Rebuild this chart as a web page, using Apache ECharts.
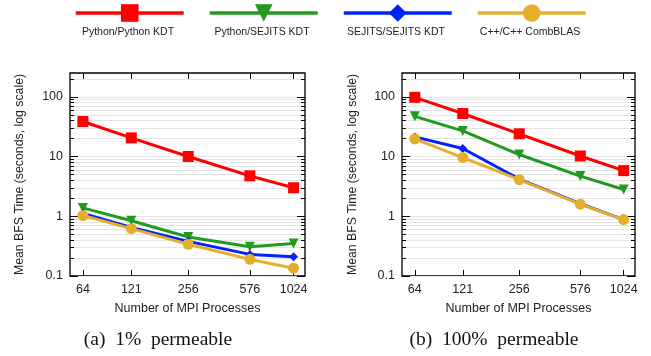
<!DOCTYPE html>
<html>
<head>
<meta charset="utf-8">
<script src="https://cdn.jsdelivr.net/npm/echarts@6/dist/echarts.min.js"></script>
<style>
  html, body { margin: 0; padding: 0; background: #fff; }
  #chart { width: 651px; height: 356px; }
</style>
</head>
<body>
<div id="chart"></div>
<script>
const procs = [64, 121, 256, 576, 1024];
const seriesNames = ['Python/Python KDT', 'Python/SEJITS KDT', 'SEJITS/SEJITS KDT', 'C++/C++ CombBLAS'];

// 1% permeable
const pyPy1 = [38.6, 20.5, 10, 4.75, 3.0];
const pySej1 = [1.38, 0.84, 0.45, 0.31, 0.35];
const sejSej1 = [1.12, 0.65, 0.38, 0.23, 0.21];
const cpp1 = [1.03, 0.62, 0.34, 0.19, 0.135];

// 100% permeable
const pyPy100 = [98, 52.5, 24, 10.2, 5.8];
const pySej100 = [47, 26.8, 10.8, 4.7, 2.8];
const sejSej100 = [21.3, 13.6, 4.2, 1.62, 0.88];
const cpp100 = [19.7, 9.6, 4.1, 1.59, 0.88];

const yMajor = [0.1, 1, 10, 100];
const captions = ['(a)  1%  permeable', '(b)  100%  permeable'];

const colors = ['#ff0000', '#229a22', '#0022ff', '#e3ae2b'];
const symbols = ['rect', 'triangle', 'diamond', 'circle'];
const symbolSizes = [11, 10, 9, 11];
const symbolRotates = [0, 180, 0, 0];

const yMinor = [];
yMajor.forEach(m => { for (let k = 1; k < 10; k++) { if (m * k <= 250) yMinor.push(m * k); } });

const grids = [
  { left: 70, top: 73, width: 235, height: 203 },
  { left: 402, top: 73, width: 233, height: 203 }
];
const xMin = 54, xMax = 1190, yMin = 0.1, yMax = 250;

const tickStyle = { color: '#000', width: 1 };
const xAxes = [], yAxes = [];
grids.forEach((g, gi) => {
  xAxes.push({
    type: 'log', logBase: 2, gridIndex: gi, min: xMin, max: xMax,
    name: 'Number of MPI Processes', nameLocation: 'middle', nameGap: 26,
    nameTextStyle: { fontFamily: 'Liberation Sans', fontSize: 12.5, color: '#222' },
    axisLine: { show: false },
    axisTick: { inside: true, length: 6, lineStyle: tickStyle, customValues: procs },
    axisLabel: { customValues: procs, fontFamily: 'Liberation Sans', fontSize: 12.5, color: '#222', margin: 7,
                 formatter: v => String(v) },
    splitLine: { show: false }
  });
  xAxes.push({
    type: 'log', logBase: 2, gridIndex: gi, min: xMin, max: xMax, position: 'top',
    axisLine: { show: false },
    axisTick: { inside: true, length: 6, lineStyle: tickStyle, customValues: procs },
    axisLabel: { show: false }, splitLine: { show: false }
  });
  ['left', 'right'].forEach(pos => {
    yAxes.push({
      type: 'log', logBase: 10, gridIndex: gi, min: yMin, max: yMax, position: pos,
      name: pos === 'left' ? 'Mean BFS Time (seconds, log scale)' : '',
      nameLocation: 'middle', nameGap: gi === 0 ? 44 : 43,
      nameTextStyle: { fontFamily: 'Liberation Sans', fontSize: 12.3, color: '#222' },
      axisLine: { show: false },
      axisTick: { inside: true, length: 4, lineStyle: tickStyle, customValues: yMinor },
      axisLabel: pos === 'left'
        ? { customValues: yMajor, fontFamily: 'Liberation Sans', fontSize: 12.5, color: '#222', margin: 7,
            formatter: v => String(v) }
        : { show: false },
      splitLine: { show: pos === 'left', lineStyle: { color: '#e4e4e4', width: 1 } }
    });
    yAxes.push({
      type: 'log', logBase: 10, gridIndex: gi, min: yMin, max: yMax, position: pos,
      axisLine: { show: false },
      axisTick: { inside: true, length: 8, lineStyle: tickStyle, customValues: yMajor },
      axisLabel: { show: false }, splitLine: { show: false }
    });
  });
});

const panels = [
  [pyPy1, pySej1, sejSej1, cpp1],
  [pyPy100, pySej100, sejSej100, cpp100]
];
const series = [];
panels.forEach((vals, gi) => {
  vals.forEach((arr, si) => {
    series.push({
      name: seriesNames[si], type: 'line',
      xAxisIndex: gi * 2, yAxisIndex: gi * 4,
      data: procs.map((p, i) => [p, arr[i]]),
      symbol: symbols[si], symbolSize: symbolSizes[si], symbolRotate: symbolRotates[si],
      showAllSymbol: true,
      lineStyle: { color: colors[si], width: 3 },
      itemStyle: { color: colors[si] },
      z: 2 + si, animation: false
    });
  });
});

const legendLeft = [74, 208, 342, 476];
const legends = seriesNames.map((n, i) => ({
  data: [n], left: legendLeft[i], top: 2, padding: 0,
  itemWidth: 108, itemHeight: 22, itemGap: 0,
  selectedMode: false, formatter: () => '',
  lineStyle: { width: 3.5 }
}));

const graphics = [];
seriesNames.forEach((n, i) => {
  graphics.push({
    type: 'text', x: legendLeft[i] + 54, y: 32,
    style: { text: n, fontFamily: 'Liberation Sans', fontSize: 10.5, fill: '#222', textAlign: 'center', textVerticalAlign: 'middle' }
  });
});
const capX = [158, 494];
captions.forEach((c, i) => {
  graphics.push({
    type: 'text', x: capX[i], y: 340,
    style: { text: c, fontFamily: 'Liberation Serif', fontSize: 19.5, fill: '#111', textAlign: 'center', textVerticalAlign: 'middle' }
  });
});

const chart = echarts.init(document.getElementById('chart'), null, { renderer: 'canvas' });
chart.setOption({
  animation: false,
  backgroundColor: '#fff',
  grid: grids.map(g => Object.assign({ show: true, borderColor: '#000', borderWidth: 1.3, backgroundColor: 'transparent' }, g)),
  xAxis: xAxes,
  yAxis: yAxes,
  legend: legends,
  series: series,
  graphic: graphics
});
</script>
</body>
</html>
